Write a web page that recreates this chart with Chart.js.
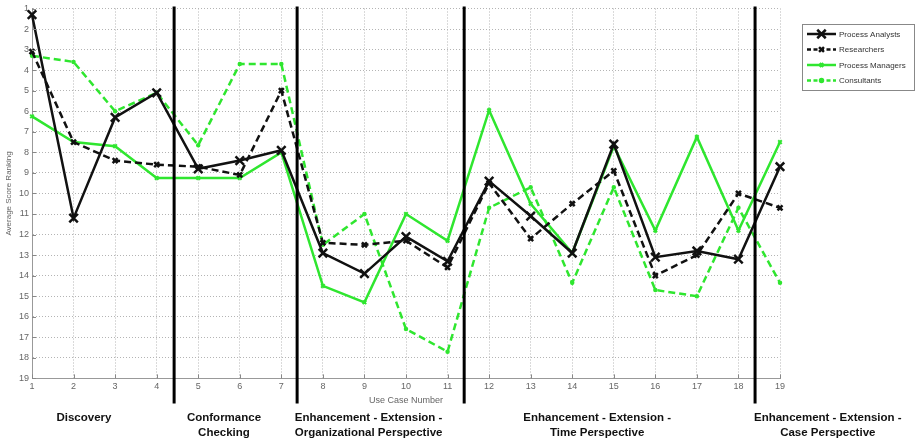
<!DOCTYPE html>
<html lang="en">
<head>
    <meta charset="UTF-8">
    <title>Average Score Ranking per Use Case</title>
    <script src="https://cdn.jsdelivr.net/npm/chart.js@4.4.1/dist/chart.umd.min.js"></script>
    <style>
        html, body { margin: 0; padding: 0; background: #fff; }
    </style>
</head>
<body>
    <div style="width: 918px; height: 439px;">
        <canvas id="myChart" width="918" height="439"></canvas>
    </div>

<script type="text/javascript">
    // use case numbers 1..19
    let useCases = [1, 2, 3, 4, 5, 6, 7, 8, 9, 10, 11, 12, 13, 14, 15, 16, 17, 18, 19];

    // average score ranking per group (1 = best, drawn on top)
    let processAnalysts = [1.3, 11.2, 6.3, 5.1, 8.8, 8.4, 7.9, 12.9, 13.9, 12.1, 13.3, 9.4, 11.1, 12.9, 7.6, 13.1, 12.8, 13.2, 8.7];
    let researchers     = [3.1, 7.5, 8.4, 8.6, 8.7, 9.1, 5.0, 12.4, 12.5, 12.3, 13.6, 9.5, 12.2, 10.5, 8.9, 14.0, 13.0, 10.0, 10.7];
    let processManagers = [6.25, 7.5, 7.7, 9.25, 9.25, 9.25, 8.0, 14.5, 15.3, 11.0, 12.3, 5.95, 10.5, 12.9, 7.7, 11.8, 7.25, 11.8, 7.5];
    let consultants     = [3.3, 3.6, 6.0, 5.1, 7.65, 3.7, 3.7, 12.5, 11.0, 16.6, 17.7, 10.7, 9.7, 14.35, 9.7, 14.7, 15.0, 10.7, 14.35];

    // section boundaries (in use case units) and section names
    let sectionBreaks = [4.42, 7.38, 11.4, 18.4];
    let sectionNames = [
        ['Discovery'],
        ['Conformance', 'Checking'],
        ['Enhancement - Extension -', 'Organizational Perspective'],
        ['Enhancement - Extension -', 'Time Perspective'],
        ['Enhancement - Extension -', 'Case Perspective']
    ];
    let sectionCenters = [2.25, 5.62, 9.1, 14.6, 20.15];

    const GREEN = '#2fe62f';
    const FONT = '"Liberation Sans", Arial, sans-serif';

    function toPoints(values) {
        return values.map(function (v, i) { return {x: useCases[i], y: v}; });
    }

    let seriesDefs = [
        {label: 'Process Analysts', data: processAnalysts, color: '#111', dash: [], style: 'crossRot', radius: 6, pw: 2.5},
        {label: 'Researchers', data: researchers, color: '#111', dash: [7, 4], style: 'crossRot', radius: 3.5, pw: 2.5},
        {label: 'Process Managers', data: processManagers, color: GREEN, dash: [], style: 'crossRot', radius: 2.5, pw: 2},
        {label: 'Consultants', data: consultants, color: GREEN, dash: [7, 4], style: 'circle', radius: 1.5, pw: 1.5}
    ];

    let datasets = seriesDefs.map(function (s) {
        return {
            label: s.label,
            data: toPoints(s.data),
            borderColor: s.color,
            backgroundColor: s.color,
            borderWidth: 2.5,
            borderDash: s.dash,
            tension: 0,
            pointStyle: s.style,
            pointRadius: s.radius,
            pointBorderWidth: s.pw,
            pointBorderColor: s.color,
            pointBackgroundColor: s.color,
            clip: false
        };
    });

    // section lines, section labels, inward ticks and legend box
    let decorations = {
        id: 'decorations',
        afterDatasetsDraw: function (chart) {
            let ctx = chart.ctx;
            let xs = chart.scales.x;
            let ys = chart.scales.y;
            let area = chart.chartArea;

            ctx.save();
            // inward ticks
            ctx.strokeStyle = '#888';
            ctx.lineWidth = 1;
            ctx.setLineDash([]);
            useCases.forEach(function (u) {
                let px = Math.round(xs.getPixelForValue(u)) + 0.5;
                ctx.beginPath();
                ctx.moveTo(px, area.bottom);
                ctx.lineTo(px, area.bottom - 4);
                ctx.stroke();
            });
            for (let v = 1; v <= 19; v++) {
                let py = Math.round(ys.getPixelForValue(v)) + 0.5;
                ctx.beginPath();
                ctx.moveTo(area.left, py);
                ctx.lineTo(area.left + 4, py);
                ctx.stroke();
            }

            // section lines
            ctx.strokeStyle = '#000';
            ctx.lineWidth = 3;
            sectionBreaks.forEach(function (b) {
                let px = xs.getPixelForValue(b);
                ctx.beginPath();
                ctx.moveTo(px, area.top - 2);
                ctx.lineTo(px, area.bottom + 25);
                ctx.stroke();
            });

            // section names
            ctx.fillStyle = '#111';
            ctx.font = 'bold 11.5px ' + FONT;
            ctx.textAlign = 'center';
            ctx.textBaseline = 'middle';
            sectionNames.forEach(function (lines, i) {
                let px = xs.getPixelForValue(sectionCenters[i]);
                lines.forEach(function (t, j) {
                    ctx.fillText(t, px, area.bottom + 39 + j * 15);
                });
            });

            // legend
            let lx = 802, ly = 24, lw = 112, lh = 66;
            ctx.fillStyle = '#fff';
            ctx.fillRect(lx, ly, lw, lh);
            ctx.strokeStyle = '#888';
            ctx.lineWidth = 1;
            ctx.strokeRect(lx + 0.5, ly + 0.5, lw, lh);
            ctx.font = '8px ' + FONT;
            ctx.textAlign = 'left';
            seriesDefs.forEach(function (s, i) {
                let y = ly + 10 + i * 15.5;
                ctx.strokeStyle = s.color;
                ctx.lineWidth = 2.5;
                ctx.setLineDash(s.dash.length ? [4, 2.5] : []);
                ctx.beginPath();
                ctx.moveTo(lx + 5, y);
                ctx.lineTo(lx + 34, y);
                ctx.stroke();
                ctx.setLineDash([]);
                ctx.fillStyle = s.color;
                Chart.helpers.drawPoint(ctx, {
                    pointStyle: s.style,
                    radius: s.radius,
                    borderWidth: s.pw,
                    rotation: 0
                }, lx + 19.5, y);
                ctx.fillStyle = '#333';
                ctx.fillText(s.label, lx + 37, y + 0.5);
            });
            ctx.restore();
        }
    };

    let ctx = document.getElementById('myChart').getContext('2d');
    window.rankChart = new Chart(ctx, {
        type: 'line',
        data: {datasets: datasets},
        plugins: [decorations],
        options: {
            responsive: false,
            animation: false,
            layout: {padding: {top: 8, right: 138, bottom: 33, left: 0}},
            plugins: {
                legend: {display: false},
                tooltip: {enabled: false}
            },
            scales: {
                x: {
                    type: 'linear',
                    min: 1,
                    max: 19,
                    ticks: {
                        stepSize: 1,
                        color: '#666',
                        font: {family: FONT, size: 9},
                        padding: 3,
                        maxRotation: 0
                    },
                    grid: {color: '#b4b4b4', drawTicks: false, lineWidth: 1},
                    border: {display: true, color: '#999', width: 1, dash: [1, 2]},
                    title: {
                        display: true,
                        text: 'Use Case Number',
                        color: '#666',
                        font: {family: FONT, size: 9},
                        padding: {top: 0, bottom: 0}
                    }
                },
                y: {
                    reverse: true,
                    min: 1,
                    max: 19,
                    afterFit: function (scale) { scale.width = 32; },
                    ticks: {
                        stepSize: 1,
                        color: '#666',
                        font: {family: FONT, size: 9},
                        padding: 3
                    },
                    grid: {color: '#b4b4b4', drawTicks: false, lineWidth: 1},
                    border: {display: true, color: '#999', width: 1, dash: [1, 2]},
                    title: {
                        display: true,
                        text: 'Average Score Ranking',
                        color: '#666',
                        font: {family: FONT, size: 8},
                        padding: {top: 4, bottom: 0}
                    }
                }
            }
        }
    });
</script>
</body>
</html>
